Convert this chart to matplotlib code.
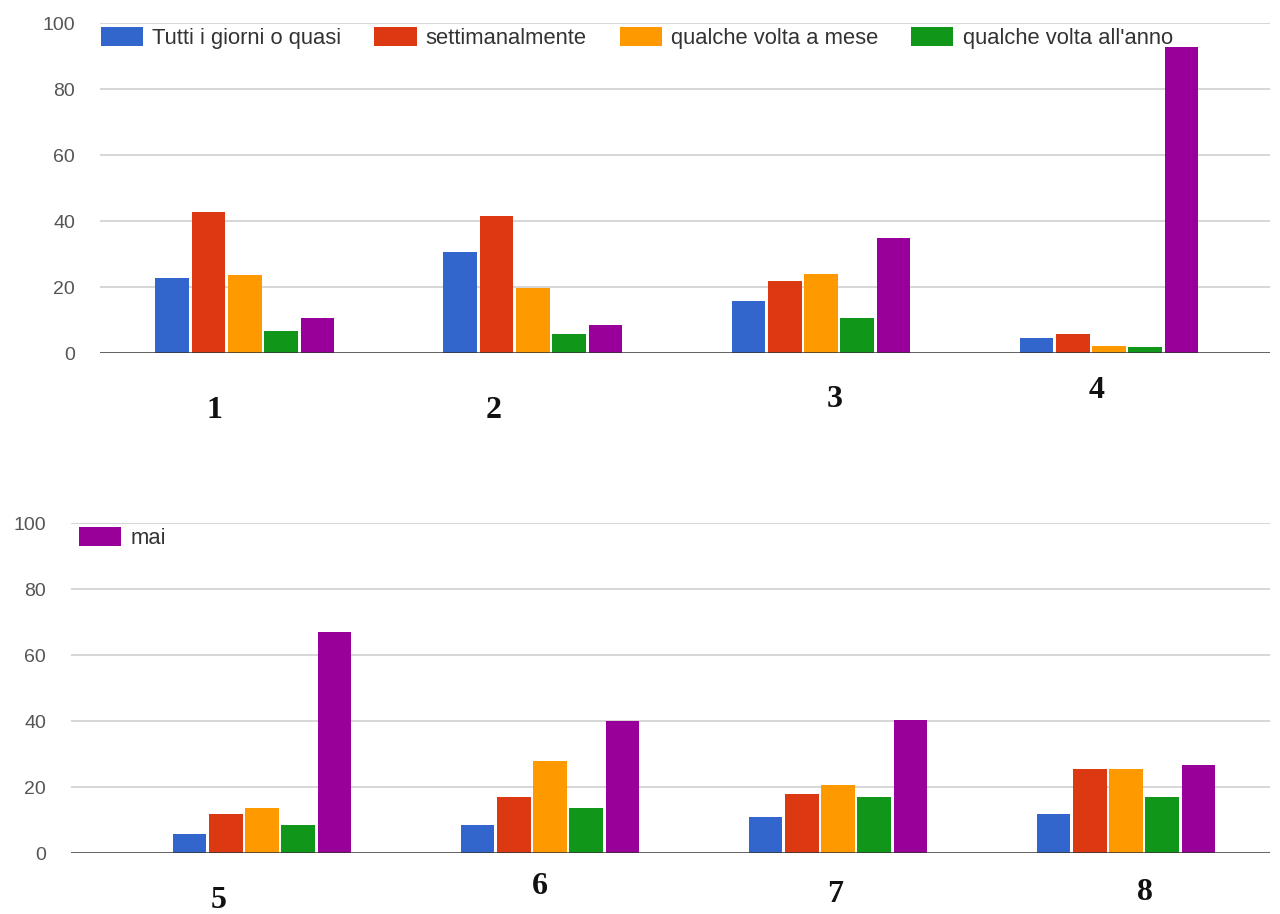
import matplotlib
matplotlib.use("Agg")
import matplotlib.pyplot as plt
import numpy as np
from matplotlib.patches import Patch

# ---- data ----
series_names = ["Tutti i giorni o quasi", "settimanalmente", "qualche volta a mese",
                "qualche volta all'anno", "mai"]
colors = ["#3366cc", "#dc3912", "#ff9900", "#109618", "#990099"]

top_groups = ["1", "2", "3", "4"]
top_values = [
    [22.7, 30.5, 15.7, 4.5],    # Tutti i giorni o quasi
    [42.6, 41.4, 21.7, 5.8],    # settimanalmente
    [23.7, 19.7, 23.9, 2.0],    # qualche volta a mese
    [6.8, 5.8, 10.6, 1.8],      # qualche volta all'anno
    [10.6, 8.4, 34.8, 92.6],    # mai
]
bottom_groups = ["5", "6", "7", "8"]
bottom_values = [
    [5.8, 8.5, 10.8, 11.8],
    [11.8, 16.9, 17.9, 25.6],
    [13.5, 27.8, 20.5, 25.6],
    [8.5, 13.5, 16.9, 16.9],
    [66.9, 39.9, 40.4, 26.8],
]
yticks = [0, 20, 40, 60, 80, 100]

W, H = 1280, 914
fig = plt.figure(figsize=(W / 100, H / 100), dpi=100)
fig.patch.set_facecolor("white")

def fx(px):
    return px / W

def fy(py):
    return 1 - py / H

def make_axes(rect, values, xlim):
    ax = fig.add_axes(rect)
    n = len(values[0])
    x = np.arange(n)
    step = 0.126
    width = 0.117
    for i, (vals, c) in enumerate(zip(values, colors)):
        ax.bar(x + (i - 2) * step, vals, width=width, color=c, zorder=3, linewidth=0)
    ax.set_xlim(*xlim)
    ax.set_ylim(0, 100)
    ax.set_yticks(yticks)
    ax.set_yticklabels([str(t) for t in yticks], fontsize=14, color="#555555",
                       family="Liberation Sans")
    ax.tick_params(axis="y", length=0, pad=18)
    ax.set_xticks([])
    for s in ax.spines.values():
        s.set_visible(False)
    for t in yticks[1:]:
        ax.axhline(t, color="#d0d0d0", lw=1.2, zorder=1)
    ax.axhline(0, color="#333333", lw=1.8, zorder=4)
    ax.patch.set_alpha(0)
    return ax

ax1 = make_axes([fx(100), fy(353), fx(1170), 330 / H], top_values, (-0.503, 3.559))
ax2 = make_axes([fx(71), fy(853), fx(1199), 330 / H], bottom_values, (-0.663, 3.5))

legend_kw = dict(frameon=False, borderpad=0, borderaxespad=0,
                 prop={"family": "Liberation Sans", "size": 15.8},
                 handlelength=1.92, handleheight=0.92, handletextpad=0.42,
                 columnspacing=1.5, labelcolor="#333333")
handles_top = [Patch(facecolor=c, edgecolor="none") for c in colors[:4]]
ax1.legend(handles_top, series_names[:4], ncol=4, loc="center left",
           bbox_to_anchor=(fx(101), fy(38)), bbox_transform=fig.transFigure, **legend_kw)
handles_bot = [Patch(facecolor=colors[4], edgecolor="none")]
ax2.legend(handles_bot, series_names[4:], loc="center left",
           bbox_to_anchor=(fx(79), fy(538)), bbox_transform=fig.transFigure, **legend_kw)

# group labels (bold serif digits drawn below each chart)
top_label_pos = [(214, 411), (494, 411), (835, 399), (1097, 391)]
bot_label_pos = [(219, 900), (540, 887), (835, 895), (1145, 893)]
for lab, (px, py) in zip(top_groups + bottom_groups, top_label_pos + bot_label_pos):
    fig.text(fx(px), fy(py), lab, ha="center", va="center", fontsize=23,
             fontweight="bold", family="Liberation Serif", color="#111111")

fig.savefig("out.png", dpi=100, facecolor="white")
